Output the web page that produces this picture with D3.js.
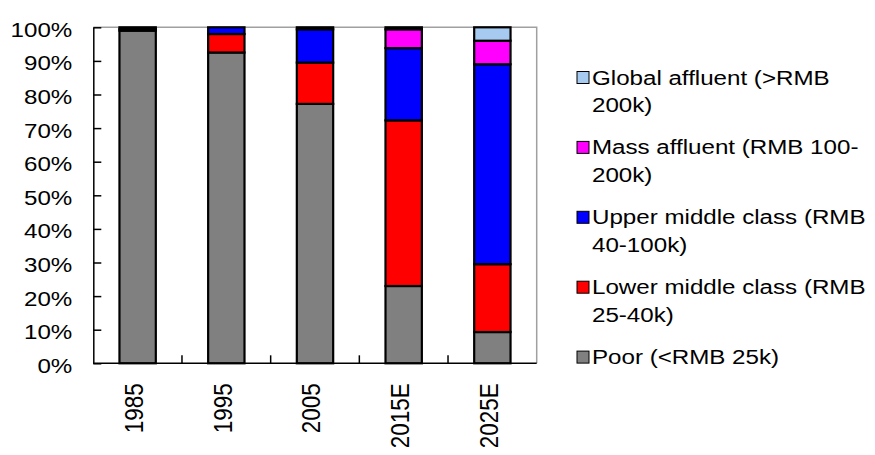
<!DOCTYPE html>
<html>
<head>
<meta charset="utf-8">
<script src="https://cdn.jsdelivr.net/npm/d3@7/dist/d3.min.js"></script>
<style>
  html, body { margin: 0; padding: 0; background: #fff; }
  text { font-family: "Liberation Sans", Arial, sans-serif; fill: #000; }
</style>
</head>
<body>
<svg id="chart" width="875" height="455"></svg>
<script>
const categories = ["1985", "1995", "2005", "2015E", "2025E"];
const poor    = [99.0, 92.5, 77.2, 23.0, 9.3];
const lower   = [0.5, 5.5, 12.3, 49.3, 20.2];
const upper   = [0.5, 2.0, 9.9, 21.5, 59.5];
const mass    = [0.0, 0.0, 0.6, 5.6, 7.0];
const globalA = [0.0, 0.0, 0.0, 0.6, 4.0];
const yTicks = [0, 10, 20, 30, 40, 50, 60, 70, 80, 90, 100];

const seriesNames = ["Poor (<RMB 25k)", "Lower middle class (RMB 25-40k)", "Upper middle class (RMB 40-100k)", "Mass affluent (RMB 100-200k)", "Global affluent (>RMB 200k)"];
const legendLines = [["Poor (<RMB 25k)"], ["Lower middle class (RMB", "25-40k)"], ["Upper middle class (RMB", "40-100k)"], ["Mass affluent (RMB 100-", "200k)"], ["Global affluent (>RMB", "200k)"]];
const seriesColors = ["#808080", "#FF0000", "#0000FF", "#FF00FF", "#A6CAF0"];
const seriesValues = [poor, lower, upper, mass, globalA];

const rows = categories.map((c, i) => {
  const r = { cat: c };
  seriesNames.forEach((s, j) => r[s] = seriesValues[j][i]);
  return r;
});

const svg = d3.select("#chart");
const pL = 93.3, pR = 536.7, pT = 27.3, pB = 363.3;
const SX = 1.15;

const x = d3.scaleBand().domain(categories).range([pL, pR]).paddingInner(0.59).paddingOuter(0.295);
const y = d3.scaleLinear().domain([0, 100]).range([pB, pT]);

const stacked = d3.stack().keys(seriesNames)(rows);

// plot border (top & right)
svg.append("path")
  .attr("d", `M${pL},${pT}H${pR}V${pB}`)
  .attr("fill", "none").attr("stroke", "#a0a0a0").attr("stroke-width", 1.5);

// bars
stacked.forEach((layer, j) => {
  svg.append("g").selectAll("rect").data(layer).join("rect")
    .attr("x", d => x(d.data.cat))
    .attr("width", x.bandwidth())
    .attr("y", d => y(d[1]))
    .attr("height", d => Math.max(0, y(d[0]) - y(d[1])))
    .attr("fill", seriesColors[j])
    .attr("stroke", "#000").attr("stroke-width", 2.2);
});

// y axis
const yAxis = d3.axisLeft(y).tickValues(yTicks).tickFormat(d => d + "%").tickSizeInner(-8).tickSizeOuter(0).tickPadding(0);
const gy = svg.append("g").attr("transform", `translate(${pL},0)`).call(yAxis);
gy.select(".domain").attr("stroke", "#000").attr("stroke-width", 1.5);
gy.selectAll(".tick line").attr("stroke", "#000").attr("stroke-width", 1.5);
gy.selectAll(".tick text")
  .attr("x", -21 / SX).attr("dy", "0.43em")
  .attr("transform", `scale(${SX},1)`)
  .style("font-size", "21px").style("font-family", "'Liberation Sans', Arial, sans-serif");

// x axis
const gx = svg.append("g").attr("transform", `translate(0,${pB})`);
gx.append("line").attr("x1", pL).attr("x2", pR).attr("y1", 0).attr("y2", 0)
  .attr("stroke", "#000").attr("stroke-width", 1.5);
const gap = (x.step() - x.bandwidth()) / 2;
gx.selectAll(".xt").data(categories.slice(1)).join("line")
  .attr("x1", d => x(d) - gap)
  .attr("x2", d => x(d) - gap)
  .attr("y1", 0).attr("y2", -8)
  .attr("stroke", "#000").attr("stroke-width", 1.5);
gx.selectAll(".xl").data(categories).join("text")
  .attr("transform", d => `translate(${x(d) + x.bandwidth() / 2},20) rotate(-90) scale(1,${SX})`)
  .attr("text-anchor", "end").attr("dy", "0.2em")
  .style("font-size", "22.5px")
  .text(d => d);

// legend
const legTop = 77, legStep = 69.9, lineH = 27.5;
const order = [4, 3, 2, 1, 0];
order.forEach((j, k) => {
  const cy = legTop + k * legStep;
  svg.append("rect").attr("x", 577).attr("y", cy - 5.5).attr("width", 12).attr("height", 12)
    .attr("fill", seriesColors[j]).attr("stroke", "#000").attr("stroke-width", 1);
  legendLines[j].forEach((ln, li) => {
    svg.append("g").attr("transform", `translate(592,${cy + li * lineH + 7.5}) scale(${SX},1)`)
      .append("text").style("font-size", "21px").text(ln);
  });
});
</script>
</body>
</html>
